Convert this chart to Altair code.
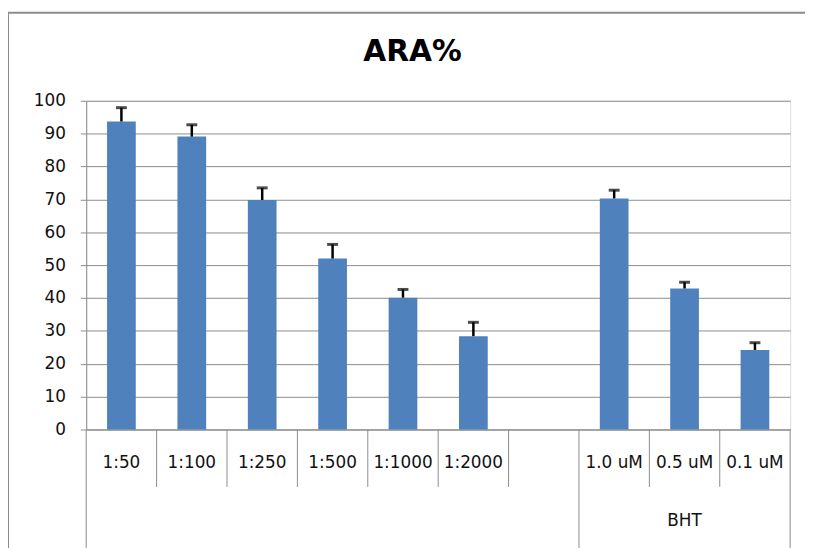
import altair as alt
import pandas as pd

# ---- data ----
categories = ["1:50", "1:100", "1:250", "1:500", "1:1000", "1:2000", " ", "1.0 uM", "0.5 uM", "0.1 uM"]
values = [93.7, 89.1, 69.8, 52.0, 40.1, 28.4, None, 70.3, 42.9, 24.2]
errors_up = [4.2, 3.6, 3.7, 4.3, 2.5, 4.2, None, 2.5, 1.9, 2.2]
y_ticks = [0, 10, 20, 30, 40, 50, 60, 70, 80, 90, 100]

group_names = ["", "BHT"]
group_first = ["1:50", "1.0 uM"]
group_center = ["1:1000", "0.5 uM"]
last_category = ["0.1 uM"]

rows = [
    {"cat": c, "value": v, "upper": v + e}
    for c, v, e in zip(categories, values, errors_up)
    if v is not None
]
bar_df = pd.DataFrame(rows)
inner_edges = pd.DataFrame({"cat": [c for c in categories if c not in group_first]})
group_edges = pd.DataFrame({"cat": group_first})
end_edge = pd.DataFrame({"cat": last_category})
group_df = pd.DataFrame({"name": group_names, "cat": group_center})
group_df = group_df[group_df["name"] != ""]

W, H = 711, 332
GRAY = "#8c8c8c"
FONT = "DejaVu Sans"

xscale = alt.Scale(domain=categories, paddingInner=0, paddingOuter=0)
yscale = alt.Scale(domain=[0, 100])

x_axis = alt.Axis(
    title=None, labelAngle=0, ticks=False, tickSize=0, domainColor=GRAY,
    labelPadding=33, labelBaseline="middle", labelFont=FONT, labelFontSize=17,
    labelColor="#111111", labelLimit=200, grid=False,
)
y_axis = alt.Axis(
    title=None, values=y_ticks, tickColor=GRAY, tickSize=6, labelOverlap=False,
    domainColor=GRAY, gridColor=GRAY, labelPadding=15, labelFont=FONT,
    labelFontSize=17, labelColor="#111111",
)

frame = alt.Chart(pd.DataFrame({"a": [0]})).mark_rect(
    filled=False, stroke=GRAY, strokeWidth=2
).encode(
    x=alt.value(-79), x2=alt.value(W + 120), y=alt.value(-89), y2=alt.value(H + 300)
)

X = alt.X("cat:N", scale=xscale, axis=x_axis, sort=categories)

bars = alt.Chart(bar_df).mark_bar(size=29, color="#4F81BD").encode(
    x=X,
    y=alt.Y("value:Q", scale=yscale, axis=y_axis),
)

stems = alt.Chart(bar_df).mark_rule(color="black", strokeWidth=2.5).encode(
    x=X,
    y=alt.Y("value:Q", scale=yscale, axis=y_axis),
    y2="upper:Q",
)

caps = alt.Chart(bar_df).mark_tick(
    color="black", thickness=3, size=11, orient="horizontal"
).encode(
    x=X,
    y=alt.Y("upper:Q", scale=yscale, axis=y_axis),
)

short_div = alt.Chart(inner_edges).mark_rule(color=GRAY, strokeWidth=1).encode(
    x=alt.X("cat:N", scale=xscale, axis=x_axis, sort=categories, bandPosition=0),
    y=alt.value(H), y2=alt.value(H + 58),
)

long_div = alt.Chart(group_edges).mark_rule(color=GRAY, strokeWidth=1).encode(
    x=alt.X("cat:N", scale=xscale, axis=x_axis, sort=categories, bandPosition=0),
    y=alt.value(H), y2=alt.value(H + 130),
)

end_div = alt.Chart(end_edge).mark_rule(color=GRAY, strokeWidth=1).encode(
    x=alt.X("cat:N", scale=xscale, axis=x_axis, sort=categories, bandPosition=1),
    y=alt.value(H), y2=alt.value(H + 130),
)

group_text = alt.Chart(group_df).mark_text(
    font=FONT, fontSize=17, color="#111111", baseline="middle"
).encode(
    x=X,
    y=alt.value(H + 92),
    text="name:N",
)

chart = alt.layer(
    frame, bars, stems, caps, short_div, long_div, end_div, group_text
).properties(
    width=W, height=H,
    autosize="none",
    padding={"left": 79, "top": 91, "right": 15, "bottom": 117},
    title=alt.Title(
        "ARA%", font=FONT, fontSize=30, fontWeight="bold", color="black",
        anchor="middle", frame="group", baseline="alphabetic", offset=-80, dx=-26,
    ),
).configure_view(stroke=None).configure(background="white")

chart.save("out.html", embed_options={"renderer": "svg", "actions": False})
